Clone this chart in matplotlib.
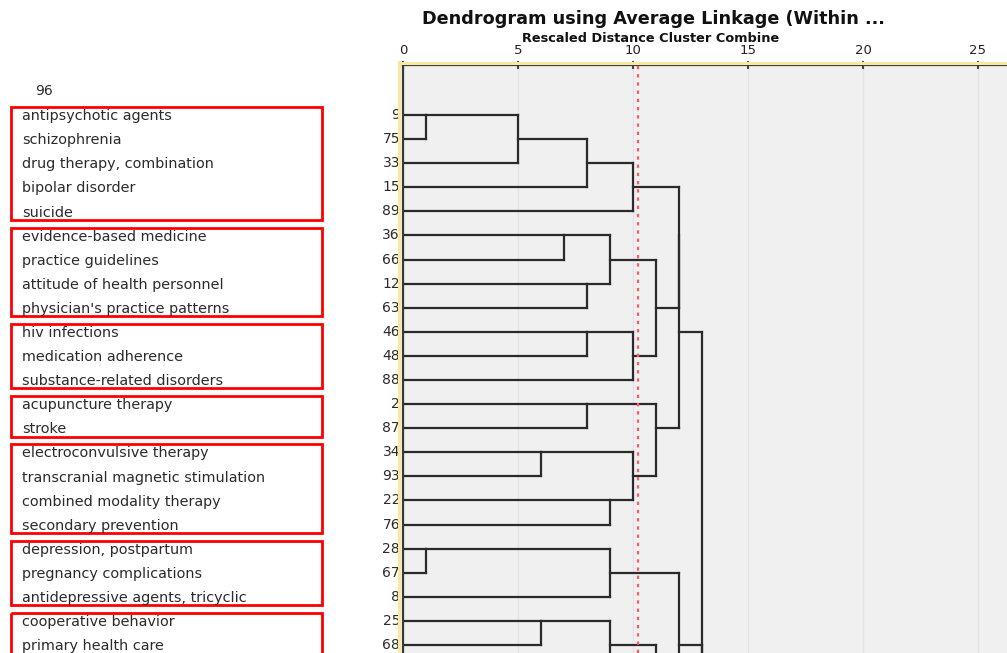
import math
import matplotlib
matplotlib.use("Agg")
import matplotlib.pyplot as plt
from matplotlib.transforms import blended_transform_factory
from matplotlib.patches import Rectangle
from matplotlib.lines import Line2D

# leaves in dendrogram order (case number, term); the h* ones sit below the visible page
leaf_ids = ["9", "75", "33", "15", "89", "36", "66", "12", "63", "46", "48", "88",
            "2", "87", "34", "93", "22", "76", "28", "67", "8", "25", "68",
            "h23", "h24", "h25", "h26", "h27", "h28", "h29", "h30"]
leaf_terms = ["antipsychotic agents", "schizophrenia", "drug therapy, combination",
              "bipolar disorder", "suicide", "evidence-based medicine",
              "practice guidelines", "attitude of health personnel",
              "physician's practice patterns", "hiv infections", "medication adherence",
              "substance-related disorders", "acupuncture therapy", "stroke",
              "electroconvulsive therapy", "transcranial magnetic stimulation",
              "combined modality therapy", "secondary prevention",
              "depression, postpartum", "pregnancy complications",
              "antidepressive agents, tricyclic", "cooperative behavior",
              "primary health care", "", "", "", "", "", "", "", ""]

# merges: (new cluster, child 1, child 2, rescaled distance)
merges = [
    ("a1", "9", "75", 1), ("a2", "a1", "33", 5), ("a3", "a2", "15", 8), ("A", "a3", "89", 10),
    ("b1", "36", "66", 7), ("b2", "12", "63", 8), ("B", "b1", "b2", 9),
    ("c1", "46", "48", 8), ("C", "c1", "88", 10), ("BC", "B", "C", 11),
    ("d1", "2", "87", 8), ("d2", "34", "93", 6), ("d3", "22", "76", 9),
    ("d4", "d2", "d3", 10), ("D", "d1", "d4", 11),
    ("ABC", "A", "BC", 12), ("ABCD", "ABC", "D", 12),
    ("e1", "28", "67", 1), ("E", "e1", "8", 9),
    ("f1", "25", "68", 6), ("f2", "f1", "h23", 9),
    ("y1", "h24", "h25", 2), ("y2", "y1", "h26", 3), ("y3", "y2", "h27", 4),
    ("y4", "y3", "h28", 5), ("Y", "y4", "h29", 6),
    ("F", "f2", "Y", 11), ("EF", "E", "F", 12),
    ("G", "EF", "h30", 13), ("ROOT", "ABCD", "G", 13),
]

# red boxes: first and last leaf of each group
groups = [("9", "89"), ("36", "63"), ("46", "88"), ("2", "87"),
          ("34", "76"), ("28", "8"), ("25", "h23")]

cut_value = 10.22
x_ticks = [0, 5, 10, 15, 20, 25]

W, H = 1007, 653
fig = plt.figure(figsize=(W / 100, H / 100), dpi=100)
fig.patch.set_facecolor("white")

ax_left, ax_top = 403, 65
ax = fig.add_axes([ax_left / W, 0, (W - ax_left) / W, (H - ax_top) / H])
ax.set_facecolor("#f0f0f0")

row0, step = 115, 24.09
ax.set_xlim(0, (W - ax_left) / 23.0)
ax.set_ylim((H - row0) / step, (ax_top - row0) / step)

ax.xaxis.tick_top()
ax.set_xticks(x_ticks)
ax.set_xticklabels([str(t) for t in x_ticks], fontsize=9.5, color="#222222")
ax.tick_params(axis="x", direction="inout", length=6, width=1.5, color="#444444", pad=3)
ax.set_yticks([])
ax.grid(axis="x", color="#e4e4e4", lw=1)
ax.set_axisbelow(True)
for s in ["bottom", "right"]:
    ax.spines[s].set_visible(False)
for s in ["top", "left"]:
    ax.spines[s].set_color("#3a3a3a")
    ax.spines[s].set_linewidth(1.6)

# dendrogram, SPSS style
row = {lid: i for i, lid in enumerate(leaf_ids)}
height = {lid: 0.0 for lid in leaf_ids}
lc = "#2a2a2a"
for name, c1, c2, h in merges:
    for c in (c1, c2):
        ax.plot([height[c], h], [row[c], row[c]], color=lc, lw=1.6, solid_capstyle="projecting")
    ax.plot([h, h], [row[c1], row[c2]], color=lc, lw=1.6, solid_capstyle="projecting")
    row[name] = math.floor((row[c1] + row[c2]) / 2)
    height[name] = h

ax.axvline(cut_value, color="#ff5c5c", lw=1.6, linestyle=(0, (1.5, 2.2)), zorder=5)

# titles
fig.text(653 / W, 1 - 19 / H, "Dendrogram using Average Linkage (Within ...",
         ha="center", va="center", fontsize=12.7, fontweight="bold", color="#111111")
fig.text(651 / W, 1 - 38 / H, "Rescaled Distance Cluster Combine",
         ha="center", va="center", fontsize=9.3, fontweight="bold", color="#111111")

# leaf labels
tr = blended_transform_factory(fig.transFigure, ax.transData)
txt = "#2b2b2b"
ax.text(35 / W, -1, "96", transform=tr, ha="left", va="center", fontsize=10, color=txt)
for i, (lid, term) in enumerate(zip(leaf_ids, leaf_terms)):
    if term == "":
        continue
    ax.text(22 / W, i + 0.05, term, transform=tr, ha="left", va="center", fontsize=10.4, color=txt)
    ax.text(400 / W, i, lid, transform=tr, ha="right", va="center", fontsize=10, color=txt)

for first, last in groups:
    top = row[first] - 0.33
    bot = row[last] + 0.35
    ax.add_patch(Rectangle((10.5 / W, top), (322 - 10.5) / W, bot - top, transform=tr,
                           fill=False, edgecolor="#ff0000", lw=2, clip_on=False))

# yellow selection outline around the panel
ycol = "#fbe6a2"
fig.add_artist(Line2D([398.5 / W, 398.5 / W], [0, 1 - 62 / H], color=ycol, lw=2.2, zorder=10))
fig.add_artist(Line2D([398.5 / W, 1], [1 - 62.5 / H, 1 - 62.5 / H], color=ycol, lw=2.2, zorder=10))

fig.savefig("out.png", dpi=100)
